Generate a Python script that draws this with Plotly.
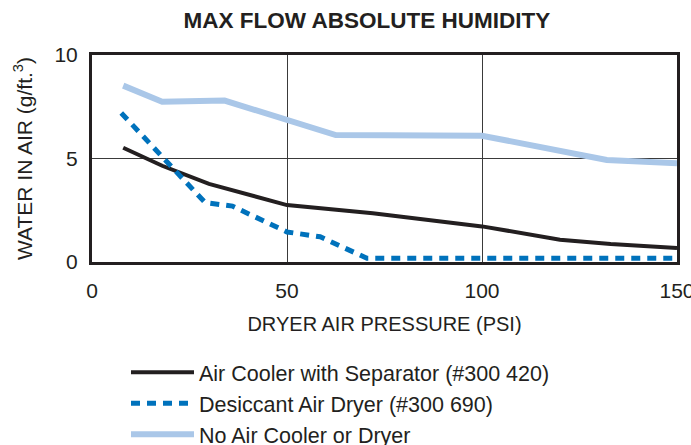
import plotly.graph_objects as go

# Data
pressure_cooler = [8, 18, 30, 50, 72, 100, 120, 133, 150]
water_cooler = [5.52, 4.65, 3.77, 2.75, 2.35, 1.72, 1.08, 0.87, 0.68]

pressure_desiccant = [7.5, 29, 36, 50, 58.5, 70.5, 150]
water_desiccant = [7.2, 2.87, 2.7, 1.45, 1.22, 0.18, 0.18]

pressure_none = [8, 18, 34, 50, 62.5, 100, 132, 150]
water_none = [8.52, 7.74, 7.8, 6.9, 6.13, 6.1, 4.93, 4.77]

names = ["Air Cooler with Separator (#300 420)",
         "Desiccant Air Dryer (#300 690)",
         "No Air Cooler or Dryer"]

x_ticks = [0, 50, 100, 150]
y_ticks = [0, 5, 10]

FONT = "Liberation Sans, Arial, sans-serif"
INK = "#231f20"

fig = go.Figure()
fig.add_trace(go.Scatter(x=pressure_cooler, y=water_cooler, mode="lines", name=names[0],
                         line=dict(color=INK, width=4), legendgroup="a"))
fig.add_trace(go.Scatter(x=pressure_desiccant, y=water_desiccant, mode="lines", name=names[1],
                         line=dict(color="#0072bc", width=5, dash="9px,7px"), legendgroup="b"))
fig.add_trace(go.Scatter(x=pressure_none, y=water_none, mode="lines", name=names[2],
                         line=dict(color="#aac7e8", width=6), legendgroup="c"))

fig.update_layout(
    width=691, height=445,
    margin=dict(l=92, r=14, t=55, b=183, autoexpand=False),
    paper_bgcolor="white", plot_bgcolor="white",
    font=dict(family=FONT, color=INK, size=20),
    title=dict(text="<b>MAX FLOW ABSOLUTE HUMIDITY</b>", x=0.531, xanchor="center",
               y=0.955, yanchor="middle", font=dict(size=22.5, family=FONT, color=INK)),
    showlegend=True,
    legend=dict(x=0.0581, y=-0.4336, xanchor="left", yanchor="top", bgcolor="rgba(0,0,0,0)",
                font=dict(size=21.5, family=FONT, color=INK),
                itemwidth=63, tracegroupgap=4, traceorder="normal"),
)
fig.update_xaxes(range=[0, 150], tickvals=x_ticks, showgrid=True, gridcolor="#3a3a3a", gridwidth=1,
                 showline=True, linecolor=INK, linewidth=3, mirror=True, zeroline=False,
                 ticks="outside", ticklen=8, tickcolor="rgba(0,0,0,0)",
                 tickfont=dict(size=21), ticklabeloverflow="allow",
                 title=dict(text="DRYER AIR PRESSURE (PSI)", font=dict(size=20), standoff=16))
fig.update_yaxes(range=[0, 10], tickvals=y_ticks, showgrid=True, gridcolor="#3a3a3a", gridwidth=1,
                 showline=True, linecolor=INK, linewidth=3, mirror=True, zeroline=False,
                 ticks="outside", ticklen=7, tickcolor="rgba(0,0,0,0)",
                 tickfont=dict(size=21),
                 title=dict(text="WATER IN AIR (g/ft.<sup>3</sup>)", font=dict(size=21), standoff=17))

fig.write_html("out.html", config={"displayModeBar": False},
               post_script="document.body.style.margin='0';")
